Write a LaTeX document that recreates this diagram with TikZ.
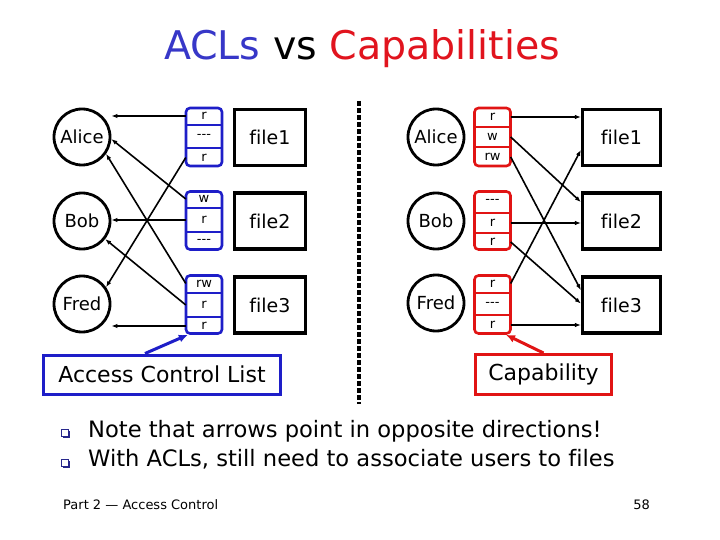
\documentclass[tikz,border=0pt]{standalone}
\usepackage{fontspec}
\setmainfont{DejaVu Sans}[Ligatures={TeX,NoCommon}]
\usetikzlibrary{arrows.meta,shadows}
\definecolor{aclblue}{RGB}{30,30,200}
\definecolor{titleblue}{RGB}{55,55,200}
\definecolor{capred}{RGB}{225,20,20}
\definecolor{titlered}{RGB}{225,20,30}
\definecolor{bulletblue}{RGB}{40,40,140}
\begin{document}
\begin{tikzpicture}[x=1pt,y=-1pt,
 person/.style={circle,draw,line width=2.8pt,minimum size=56pt,inner sep=0pt,font=\fontsize{18}{18}\selectfont},
 filebox/.style={rectangle,draw,line width=3.2pt,minimum height=56pt,inner sep=0pt,font=\fontsize{19}{19}\selectfont},
 listbox/.style={rectangle,rounded corners=4pt,draw,line width=2.6pt,minimum width=36pt,minimum height=58pt,inner sep=0pt},
 rowcell/.style={rectangle,minimum width=36pt,inner sep=0pt,font=\fontsize{13}{13}\selectfont},
 divider/.style={line width=1.8pt},
 link/.style={-{Latex[length=6pt,width=4.5pt]},line width=1.6pt},
 pointer/.style={-{Latex[length=9pt,width=8pt]},line width=3pt},
 labelbox/.style={rectangle,draw,line width=3pt,inner sep=0pt,font=\fontsize{22}{22}\selectfont},
 bulletbox/.style={rectangle,draw=bulletblue,fill=white,line width=0.7pt,minimum size=6.5pt,inner sep=0pt,
   drop shadow={shadow xshift=1.3pt,shadow yshift=-1.3pt,fill=bulletblue,opacity=1}},
 bodytext/.style={anchor=base west,inner sep=0pt,font=\fontsize{22.6}{22.6}\selectfont},
 foot/.style={inner sep=0pt,font=\fontsize{13}{13}\selectfont},
]
\fill[white] (0,0) rectangle (720,540);
\useasboundingbox (0,0) rectangle (720,540);

% title
\node[anchor=base,inner sep=0pt,font=\fontsize{39.5}{39.5}\selectfont] (title) at (362,60)
  {\textcolor{titleblue}{ACLs} vs \textcolor{titlered}{Capabilities}};

% ---------------- left: ACLs ----------------
\node[person] (aliceL) at (82,137) {Alice};
\node[person] (bobL) at (82,221) {Bob};
\node[person] (fredL) at (82,304) {Fred};

\node[filebox,minimum width=71pt] (f1L) at (270,137.5) {file1};
\node[filebox,minimum width=71pt] (f2L) at (270,221) {file2};
\node[filebox,minimum width=71pt] (f3L) at (270,305) {file3};

\node[listbox,draw=aclblue] (a1) at (204,137) {};
\node[rowcell,minimum height=18pt] (a1a) at (204,116) {r};
\node[rowcell,minimum height=23pt] (a1b) at (204,136.5) {{-}{-}{-}};
\node[rowcell,minimum height=19pt] (a1c) at (204,157.5) {r};
\draw[divider,aclblue] (a1a.south west) -- (a1a.south east);
\draw[divider,aclblue] (a1b.south west) -- (a1b.south east);

\node[listbox,draw=aclblue] (a2) at (204,220.5) {};
\node[rowcell,minimum height=18pt] (a2a) at (204,199) {w};
\node[rowcell,minimum height=24pt] (a2b) at (204,220) {r};
\node[rowcell,minimum height=19pt] (a2c) at (204,241.5) {{-}{-}{-}};
\draw[divider,aclblue] (a2a.south west) -- (a2a.south east);
\draw[divider,aclblue] (a2b.south west) -- (a2b.south east);

\node[listbox,draw=aclblue] (a3) at (204,304.5) {};
\node[rowcell,minimum height=19pt] (a3a) at (204,283.5) {rw};
\node[rowcell,minimum height=24pt] (a3b) at (204,305) {r};
\node[rowcell,minimum height=18pt] (a3c) at (204,326) {r};
\draw[divider,aclblue] (a3a.south west) -- (a3a.south east);
\draw[divider,aclblue] (a3b.south west) -- (a3b.south east);

\draw[link] (a1a.west) -- (aliceL.east |- a1a.west);
\draw[link] (a1c.west) -- (fredL.35);
\draw[link] (a2a.west) -- (aliceL.-4);
\draw[link] (a2b.west) -- (bobL.east |- a2b.west);
\draw[link] (a3a.west) -- (aliceL.-35);
\draw[link] (a3b.west) -- (bobL.-38);
\draw[link] (a3c.west) -- (fredL.east |- a3c.west);

\node[labelbox,draw=aclblue,minimum width=237pt,minimum height=39pt] (acllab) at (162,374.5) {Access Control List};
\draw[pointer,aclblue] (acllab.129) -- (a3.-118);

% separator
\draw[line width=4.5pt,dash pattern=on 5pt off 2pt] (359,101) -- (359,404);

% ---------------- right: Capabilities ----------------
\node[person] (aliceR) at (436,137) {Alice};
\node[person] (bobR) at (436,221) {Bob};
\node[person] (fredR) at (436,303) {Fred};

\node[filebox,minimum width=78pt] (f1R) at (621.5,137.5) {file1};
\node[filebox,minimum width=78pt] (f2R) at (621.5,221) {file2};
\node[filebox,minimum width=78pt] (f3R) at (621.5,305) {file3};

\node[listbox,draw=capred] (c1) at (492.5,137) {};
\node[rowcell,minimum height=20pt] (c1a) at (492.5,117) {r};
\node[rowcell,minimum height=20pt] (c1b) at (492.5,137) {w};
\node[rowcell,minimum height=20pt] (c1c) at (492.5,157) {rw};
\draw[divider,capred] (c1a.south west) -- (c1a.south east);
\draw[divider,capred] (c1b.south west) -- (c1b.south east);

\node[listbox,draw=capred] (c2) at (492.5,220.5) {};
\node[rowcell,minimum height=23pt] (c2a) at (492.5,201.5) {{-}{-}{-}};
\node[rowcell,minimum height=20pt] (c2b) at (492.5,223) {r};
\node[rowcell,minimum height=18pt] (c2c) at (492.5,242) {r};
\draw[divider,capred] (c2a.south west) -- (c2a.south east);
\draw[divider,capred] (c2b.south west) -- (c2b.south east);

\node[listbox,draw=capred] (c3) at (492.5,304.5) {};
\node[rowcell,minimum height=19pt] (c3a) at (492.5,283.5) {r};
\node[rowcell,minimum height=22pt] (c3b) at (492.5,304) {{-}{-}{-}};
\node[rowcell,minimum height=20pt] (c3c) at (492.5,325) {r};
\draw[divider,capred] (c3a.south west) -- (c3a.south east);
\draw[divider,capred] (c3b.south west) -- (c3b.south east);

\draw[link] (c1a.east) -- (f1R.west |- c1a.east);
\draw[link] (c1b.east) -- (f2R.155);
\draw[link] (c1c.east) -- (f3R.160);
\draw[link] (c2b.east) -- (f2R.west |- c2b.east);
\draw[link] (c2c.east) -- (f3R.178);
\draw[link] (c3a.east) -- (f1R.197);
\draw[link] (c3c.east) -- (f3R.west |- c3c.east);

\node[labelbox,draw=capred,minimum width=136pt,minimum height=40pt] (caplab) at (543.5,374.5) {Capability};
\draw[pointer,capred] (caplab.north) -- (c3.-66);

% bullets
\node[bulletbox] (b1) at (65,433) {};
\node[bulletbox] (b2) at (65,463) {};
\node[bodytext] (t1) at (88,437) {Note that arrows point in opposite directions!};
\node[bodytext] (t2) at (88,466) {With ACLs, still need to associate users to files};

% footer
\node[foot,anchor=base west] (footL) at (63,509) {Part 2 — Access Control};
\node[foot,anchor=base east] (footR) at (650,509) {58};
\end{tikzpicture}
\end{document}
